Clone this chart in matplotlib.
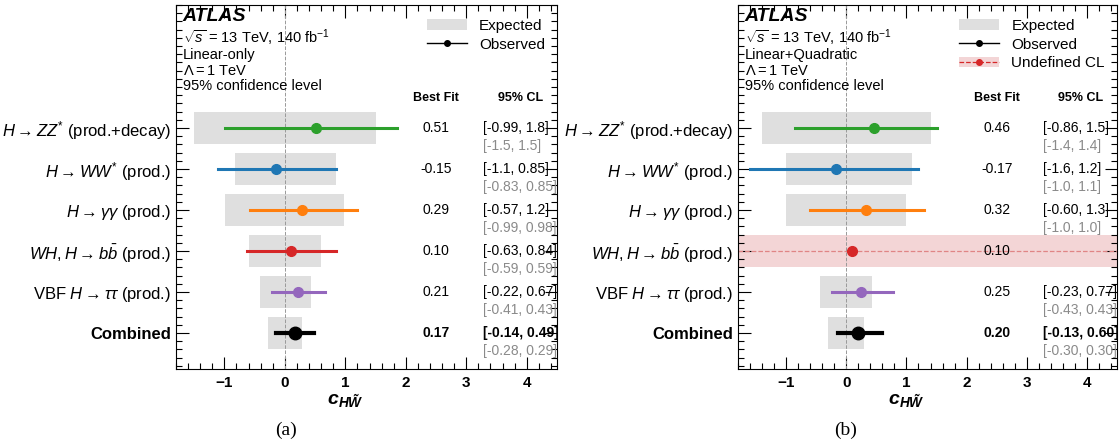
import matplotlib
matplotlib.use("Agg")
import matplotlib.pyplot as plt
import matplotlib.ticker as ticker
from matplotlib.patches import Patch
from matplotlib.lines import Line2D

plt.rcParams["font.family"] = ["Liberation Sans", "DejaVu Sans"]
plt.rcParams["mathtext.fontset"] = "custom"
plt.rcParams["mathtext.rm"] = "Liberation Sans"
plt.rcParams["mathtext.it"] = "Liberation Sans:italic"
plt.rcParams["mathtext.bf"] = "Liberation Sans:bold"
try:
    plt.rcParams["mathtext.bfit"] = "Liberation Sans:italic:bold"
    xlab = r"$\mathbfit{c}_{\mathbfit{H\tilde{W}}}$"
except KeyError:
    xlab = r"$c_{H\tilde{W}}$"

# ---- data ----
categories = [r"$H \rightarrow ZZ^{*}$ (prod.+decay)",
              r"$H \rightarrow WW^{*}$ (prod.)",
              r"$H \rightarrow \gamma\gamma$ (prod.)",
              r"$WH, H \rightarrow b\bar{b}$ (prod.)",
              r"VBF $H \rightarrow \tau\tau$ (prod.)",
              "Combined"]
colors = ["#2ca02c", "#1f77b4", "#ff7f0e", "#d62728", "#9467bd", "black"]

# (a) linear-only
lin_best = [0.51, -0.15, 0.29, 0.10, 0.21, 0.17]
lin_obs_lo = [-0.99, -1.1, -0.57, -0.63, -0.22, -0.14]
lin_obs_hi = [1.85, 0.85, 1.2, 0.84, 0.67, 0.49]
lin_exp_lo = [-1.5, -0.83, -0.99, -0.59, -0.41, -0.28]
lin_exp_hi = [1.5, 0.85, 0.98, 0.59, 0.43, 0.29]
lin_best_txt = ["0.51", "-0.15", "0.29", "0.10", "0.21", "0.17"]
lin_obs_txt = ["[-0.99, 1.8]", "[-1.1, 0.85]", "[-0.57, 1.2]", "[-0.63, 0.84]", "[-0.22, 0.67]", "[-0.14, 0.49]"]
lin_exp_txt = ["[-1.5, 1.5]", "[-0.83, 0.85]", "[-0.99, 0.98]", "[-0.59, 0.59]", "[-0.41, 0.43]", "[-0.28, 0.29]"]

# (b) linear+quadratic  (None = undefined CL)
quad_best = [0.46, -0.17, 0.32, 0.10, 0.25, 0.20]
quad_obs_lo = [-0.86, -1.6, -0.60, None, -0.23, -0.13]
quad_obs_hi = [1.5, 1.2, 1.3, None, 0.77, 0.60]
quad_exp_lo = [-1.4, -1.0, -1.0, None, -0.43, -0.30]
quad_exp_hi = [1.4, 1.1, 1.0, None, 0.43, 0.30]
quad_best_txt = ["0.46", "-0.17", "0.32", "0.10", "0.25", "0.20"]
quad_obs_txt = ["[-0.86, 1.5]", "[-1.6, 1.2]", "[-0.60, 1.3]", None, "[-0.23, 0.77]", "[-0.13, 0.60]"]
quad_exp_txt = ["[-1.4, 1.4]", "[-1.0, 1.1]", "[-1.0, 1.0]", None, "[-0.43, 0.43]", "[-0.30, 0.30]"]

GREY_BOX = "#dfdfdf"
PINK = "#f3d5d6"


def draw_panel(ax, best, olo, ohi, elo, ehi, btxt, otxt, etxt, model, undefined=False):
    n = len(categories)
    ys = [n - 1 - i for i in range(n)]
    for i, y in enumerate(ys):
        if olo[i] is None:
            ax.axhspan(y - 0.4, y + 0.4, color=PINK, lw=0, zorder=1)
            ax.axhline(y, color="#e08585", ls="--", lw=0.9, zorder=2)
            ax.plot(best[i], y, "o", color=colors[i], ms=7, zorder=4)
        else:
            ax.barh(y, ehi[i] - elo[i], left=elo[i], height=0.8, color=GREY_BOX, zorder=1)
            lw = 3.0 if i == n - 1 else 2.2
            ms = 9 if i == n - 1 else 7
            ax.plot([olo[i], ohi[i]], [y, y], color=colors[i], lw=lw, zorder=3)
            ax.plot(best[i], y, "o", color=colors[i], ms=ms, zorder=4)
        w = "bold" if i == n - 1 else "normal"
        ax.text(2.5, y, btxt[i], ha="center", va="center", fontsize=10, fontweight=w, zorder=5)
        if otxt[i] is not None:
            ax.text(3.27, y, otxt[i], ha="left", va="center", fontsize=10, fontweight=w)
            ax.text(3.27, y - 0.44, etxt[i], ha="left", va="center", fontsize=10, color="#8a8a8a")

    ax.axvline(0, color="#999999", ls="--", lw=0.7, zorder=2)

    ax.set_xlim(-1.8, 4.5)
    ax.set_ylim(-0.88, 8.0)
    ax.set_yticks(ys)
    ax.set_yticklabels(categories, fontsize=12)
    ax.get_yticklabels()[-1].set_fontweight("bold")
    ax.yaxis.set_minor_locator(ticker.MultipleLocator(0.2))
    ax.xaxis.set_major_locator(ticker.MultipleLocator(1))
    ax.xaxis.set_minor_locator(ticker.MultipleLocator(0.2))
    ax.tick_params(which="both", direction="in", top=True, right=True)
    ax.tick_params(which="major", length=9, width=0.8)
    ax.tick_params(which="minor", length=4, width=0.8)
    ax.tick_params(axis="x", labelsize=11, pad=5)
    for lab in ax.get_xticklabels():
        lab.set_fontweight("bold")
    for s in ax.spines.values():
        s.set_linewidth(0.8)

    ax.text(0.444, -0.066, xlab, transform=ax.transAxes, ha="center", va="top", fontsize=14)

    ax.text(2.5, 5.73, "Best Fit", ha="center", va="center", fontsize=9, fontweight="bold")
    ax.text(3.9, 5.73, "95% CL", ha="center", va="center", fontsize=9, fontweight="bold")

    # ATLAS label block
    tx = 0.018
    ax.text(tx, 0.993, "ATLAS", transform=ax.transAxes, ha="left", va="top",
            fontsize=14, fontweight="bold", fontstyle="italic")
    lines = [r"$\sqrt{s}$ = 13 TeV, 140 fb$^{-1}$", model, r"$\Lambda = 1$ TeV", "95% confidence level"]
    ypos = [0.910, 0.862, 0.820, 0.778]
    for t, yy in zip(lines, ypos):
        ax.text(tx, yy, t, transform=ax.transAxes, ha="left", va="center", fontsize=10.5)

    handles = [Patch(facecolor=GREY_BOX, edgecolor="none"),
               Line2D([], [], color="black", lw=1.0, marker="o", ms=4)]
    labels = ["Expected", "Observed"]
    if undefined:
        handles.append((Patch(facecolor=PINK, edgecolor="none"),
                        Line2D([], [], color="#d62728", ls="--", lw=0.9, marker="o", ms=4)))
        labels.append("Undefined CL")
    ax.legend(handles, labels, loc="upper right", bbox_to_anchor=(1.0, 0.995), frameon=False,
              fontsize=11, handlelength=2.6, handletextpad=0.8, labelspacing=0.3,
              borderaxespad=0.4)


fig = plt.figure(figsize=(11.2, 4.46), dpi=100)
ax1 = fig.add_axes([176 / 1120, 77 / 446, 381 / 1120, 364 / 446])
ax2 = fig.add_axes([738 / 1120, 77 / 446, 379 / 1120, 364 / 446])

draw_panel(ax1, lin_best, lin_obs_lo, lin_obs_hi, lin_exp_lo, lin_exp_hi,
           lin_best_txt, lin_obs_txt, lin_exp_txt, "Linear-only")
draw_panel(ax2, quad_best, quad_obs_lo, quad_obs_hi, quad_exp_lo, quad_exp_hi,
           quad_best_txt, quad_obs_txt, quad_exp_txt, "Linear+Quadratic", undefined=True)

fig.text(286 / 1120, 1 - 430 / 446, "(a)", ha="center", va="center", fontsize=14, family="Liberation Serif")
fig.text(846 / 1120, 1 - 430 / 446, "(b)", ha="center", va="center", fontsize=14, family="Liberation Serif")

fig.savefig("out.png", dpi=100)
